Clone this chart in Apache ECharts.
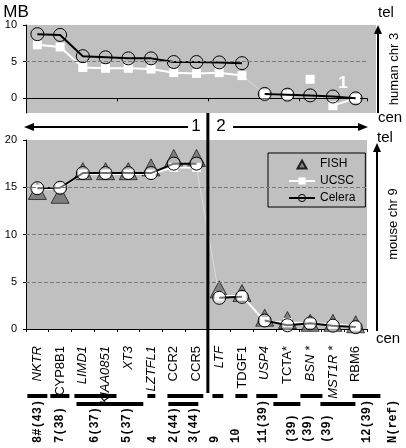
<!DOCTYPE html>
<html><head><meta charset="utf-8">
<script src="https://cdn.jsdelivr.net/npm/echarts@6/dist/echarts.min.js"></script>
<style>html,body{margin:0;padding:0;background:#fff}#c{width:406px;height:448px}</style>
</head><body><div id="c"></div>
<script>
// ---------- data ----------
const genes = ['NKTR','CYP8B1','LIMD1','KIAA0851','XT3','LZTFL1','CCR2','CCR5','LTF','TDGF1','USP4','TCTA*','BSN *','MST1R *','RBM6'];
const uprightGenes = ['CYP8B1','CCR2','CCR5','TDGF1','TCTA*','RBM6'];
// human chr 3 (MB)
const humanCelera = [8.75,8.65,5.75,5.6,5.45,5.45,4.95,4.95,4.9,4.8,0.6,0.5,0.4,0.25,0.0];
const humanUCSC   = [7.3,7.0,4.2,4.1,4.1,4.0,3.5,3.4,3.5,3.1,0.6,0.5,2.6,-1.0,0.0];
// mouse chr 9 (MB)
const mouseFISH   = [14.6,14.2,16.7,16.7,16.7,17.1,18.1,18.1,4.2,3.8,1.2,0.95,0.65,0.65,0.5];
const mouseUCSC   = [14.8,14.9,16.4,16.4,16.4,16.4,17.1,17.1,3.5,3.5,0.8,0.7,0.6,0.5,0.3];
const mouseCelera = [14.9,14.95,16.5,16.5,16.5,16.5,17.5,17.5,3.3,3.4,0.9,0.4,0.6,0.35,0.2];
// line segments (index ranges that are joined by a line)
const humanCeleraSegs = [[0,9],[10,14]];
const humanUCSCSegs   = [[0,9],[10,11],[12,12],[13,14]];
const humanUCSCFaint  = [[9,10]];
const mouseCeleraSegs = [[0,7],[8,9],[10,14]];
const mouseUCSCSegs   = [[0,7],[8,14]];
const mouseUCSCFaint  = [[7,8]];
const humanTicks = [0,5,10];
const mouseTicks = [0,5,10,15,20];
const humanGridLines = [5];
const mouseGridLines = [5,10,15];
// reference bars (category index ranges) and labels
const refSpansRow1 = [[-0.44,0.44],[0.57,1.41],[1.63,3.48],[4.84,5.19],[5.72,7.3],[7.7,8.18],[8.71,9.24],[9.63,10.56],[11.57,12.54],[13.86,15.09]];
const refSpansRow2 = [[1.72,4.66],[5.76,7.08],[10.38,11.57],[12.45,13.99]];
const refLabels = ['8#(43)','7(38)','6(37)','5(37)','4','2(44)','3(44)','9','10','11(39)','(39)','(39)','(39)','12(39)','N(ref)'];
const refLabelPos = [0.04,1.0,2.55,3.96,5.1,6.0,6.9,7.83,8.75,9.94,11.2,11.9,12.76,14.5,15.66];

// ---------- chart ----------
const GRAY = '#c0c0c0';
const chart = echarts.init(document.getElementById('c'), null, {renderer:'canvas'});
function seg(arr, r){ return arr.map((v,i)=> (i>=r[0] && i<=r[1]) ? v : '-'); }
const dashed = {type:'dashed', color:'#7a7a7a', width:1};
function gridLines(vals){
  return {silent:true, symbol:'none', label:{show:false}, lineStyle:dashed, data: vals.map(v=>({yAxis:v}))};
}
const series = [];
humanUCSCSegs.forEach((r,k)=>series.push({
  name:'UCSC', type:'line', xAxisIndex:0, yAxisIndex:0, data:seg(humanUCSC,r),
  symbol:'rect', symbolSize:9, itemStyle:{color:'#fff'}, lineStyle:{color:'#fff', width:2},
  markLine: k===0 ? gridLines(humanGridLines) : undefined, z:2
}));
humanUCSCFaint.forEach(r=>series.push({
  name:'UCSC', type:'line', xAxisIndex:0, yAxisIndex:0, data:seg(humanUCSC,r),
  showSymbol:false, symbol:'none', lineStyle:{color:'#dcdcdc', width:1}, z:1
}));
humanCeleraSegs.forEach(r=>series.push({
  name:'Celera', type:'line', xAxisIndex:0, yAxisIndex:0, data:seg(humanCelera,r),
  symbol:'circle', symbolSize:13, itemStyle:{color:'rgba(0,0,0,0)', borderColor:'#000', borderWidth:1},
  lineStyle:{color:'#000', width:2}, z:3
}));
series.push({
  name:'FISH', type:'scatter', xAxisIndex:1, yAxisIndex:1, data:mouseFISH,
  symbol:'triangle', symbolSize:[18,17], itemStyle:{color:'#6e6e6e', borderColor:'#000', borderWidth:0.8},
  markLine: gridLines(mouseGridLines), z:2
});
mouseUCSCSegs.forEach(r=>series.push({
  name:'UCSC', type:'line', xAxisIndex:1, yAxisIndex:1, data:seg(mouseUCSC,r),
  symbol:'rect', symbolSize:9, itemStyle:{color:'#fff'}, lineStyle:{color:'#fff', width:2}, z:3
}));
mouseUCSCFaint.forEach(r=>series.push({
  name:'UCSC', type:'line', xAxisIndex:1, yAxisIndex:1, data:seg(mouseUCSC,r),
  showSymbol:false, symbol:'none', lineStyle:{color:'#dcdcdc', width:1}, z:1
}));
mouseCeleraSegs.forEach(r=>series.push({
  name:'Celera', type:'line', xAxisIndex:1, yAxisIndex:1, data:seg(mouseCelera,r),
  symbol:'circle', symbolSize:13, itemStyle:{color:'rgba(255,255,255,0.45)', borderColor:'#000', borderWidth:1},
  lineStyle:{color:'#000', width:2}, z:4
}));

const axisTxt = {color:'#000', fontSize:11, fontFamily:'Arial'};
const option = {
  animation:false,
  grid:[
    {left:26, width:341, top:25, height:88, show:true, backgroundColor:GRAY, borderWidth:0},
    {left:26, width:341, top:140, height:189, show:true, backgroundColor:GRAY, borderWidth:0}
  ],
  xAxis:[
    {type:'category', gridIndex:0, data:genes, boundaryGap:true,
     axisLine:{onZero:true, lineStyle:{color:'#000', width:1}},
     axisTick:{show:true, length:3, lineStyle:{color:'#000'}}, axisLabel:{show:false}, splitLine:{show:false}},
    {type:'category', gridIndex:1, data:genes.map(g=>({value:g, textStyle:{fontStyle: uprightGenes.includes(g)?'normal':'italic'}})), boundaryGap:true,
     axisLine:{lineStyle:{color:'#000', width:1}},
     axisTick:{show:true, length:3, lineStyle:{color:'#000'}},
     axisLabel:{show:true, interval:0, rotate:90, align:'center', verticalAlign:'middle', margin:17, color:'#000', fontSize:13, fontFamily:'Arial'},
     splitLine:{show:false}}
  ],
  yAxis:[
    {type:'value', gridIndex:0, min:-2, max:10,
     axisLine:{show:true, lineStyle:{color:'#000'}},
     axisTick:{show:true, length:3, customValues:humanTicks, lineStyle:{color:'#000'}},
     axisLabel:Object.assign({customValues:humanTicks, margin:9}, axisTxt),
     splitLine:{show:false}},
    {type:'value', gridIndex:1, min:0, max:20, interval:5,
     axisLine:{show:true, lineStyle:{color:'#000'}},
     axisTick:{show:true, length:3, lineStyle:{color:'#000'}},
     axisLabel:Object.assign({margin:9, customValues:mouseTicks}, axisTxt),
     splitLine:{show:false}}
  ],
  legend:{
    orient:'vertical', left:268, top:153, width:99,
    backgroundColor:GRAY, borderColor:'#000', borderWidth:1, padding:[5,10,3,20],
    itemWidth:26, itemHeight:9, itemGap:5, selectedMode:false,
    textStyle:{fontSize:12, fontFamily:'Arial', color:'#000'},
    data:[
      {name:'FISH', icon:'path://M0,0L0.01,0M13,1L17.5,9L8.5,9ZM26,9L26,8.99'},
      {name:'UCSC'},
      {name:'Celera', itemStyle:{color:'rgba(0,0,0,0)', borderColor:'#000', borderWidth:1}}
    ]
  },
  series:series
};
chart.setOption(option);

// ---------- annotations ----------
const x0 = chart.convertToPixel({xAxisIndex:1}, 0);
const x1 = chart.convertToPixel({xAxisIndex:1}, 1);
const step = x1 - x0;
const px = i => x0 + step*i;
const g = [];
function txt(x,y,t,font,opts){ return Object.assign({type:'text', x:x, y:y, style:Object.assign({text:t, font:font, fill:'#000', textAlign:'center', textVerticalAlign:'middle'}, (opts&&opts.style)||{})}, opts&&opts.el||{}); }
// top panel gray extension
g.push({type:'rect', shape:{x:367, y:25, width:9, height:88}, style:{fill:GRAY}, z:-1});
// MB
g.push(txt(16,12,'MB','17px Arial'));
// divider line between CCR5 and LTF
const xd = px(7.5);
g.push({type:'line', shape:{x1:xd, y1:113, x2:xd, y2:393}, style:{stroke:'#000', lineWidth:3}, z:10});
// horizontal arrows
g.push({type:'line', shape:{x1:32, y1:127, x2:188, y2:127}, style:{stroke:'#000', lineWidth:2}});
g.push({type:'polygon', shape:{points:[[24,127],[34,123],[34,131]]}, style:{fill:'#000'}});
g.push(txt(196,126,'1','17px Arial'));
g.push(txt(221,126,'2','17px Arial'));
g.push({type:'line', shape:{x1:233, y1:127, x2:360, y2:127}, style:{stroke:'#000', lineWidth:2}});
g.push({type:'polygon', shape:{points:[[368,127],[358,123],[358,131]]}, style:{fill:'#000'}});
// white "1" in top panel
g.push(txt(343,83,'1','bold 17px Arial',{style:{fill:'#fff'}}));
// right side: human chr 3
g.push(txt(386,13,'tel','15px Arial'));
g.push({type:'line', shape:{x1:378, y1:113, x2:378, y2:32}, style:{stroke:'#000', lineWidth:2}});
g.push({type:'polygon', shape:{points:[[378,25],[374,34],[382,34]]}, style:{fill:'#000'}});
g.push(txt(394,69,'human chr 3','13px Arial',{el:{rotation:Math.PI/2}}));
g.push(txt(390,118,'cen','15px Arial'));
// right side: mouse chr 9
g.push(txt(385,138,'tel','15px Arial'));
g.push({type:'line', shape:{x1:377, y1:331, x2:377, y2:150}, style:{stroke:'#000', lineWidth:2}});
g.push({type:'polygon', shape:{points:[[377,143],[373,152],[381,152]]}, style:{fill:'#000'}});
g.push(txt(393,224,'mouse chr 9','13px Arial',{el:{rotation:Math.PI/2}}));
g.push(txt(388,339,'cen','15px Arial'));
// reference bars
function barRect(r, yc){ const a=px(r[0]), b=px(r[1]); return {type:'rect', shape:{x:a, y:yc-2, width:b-a, height:4}, style:{fill:'#000'}}; }
refSpansRow1.forEach(r=>g.push(barRect(r,396)));
refSpansRow2.forEach(r=>g.push(barRect(r,404)));
// reference labels
refLabels.forEach((t,i)=>g.push({type:'text', x:px(refLabelPos[i]), y:443, rotation:Math.PI/2,
  style:{text:t, font:'bold 12px "Liberation Mono", monospace', fill:'#000', textAlign:'left', textVerticalAlign:'middle'}}));
chart.setOption({graphic:{elements:g}});
</script>
</body></html>
